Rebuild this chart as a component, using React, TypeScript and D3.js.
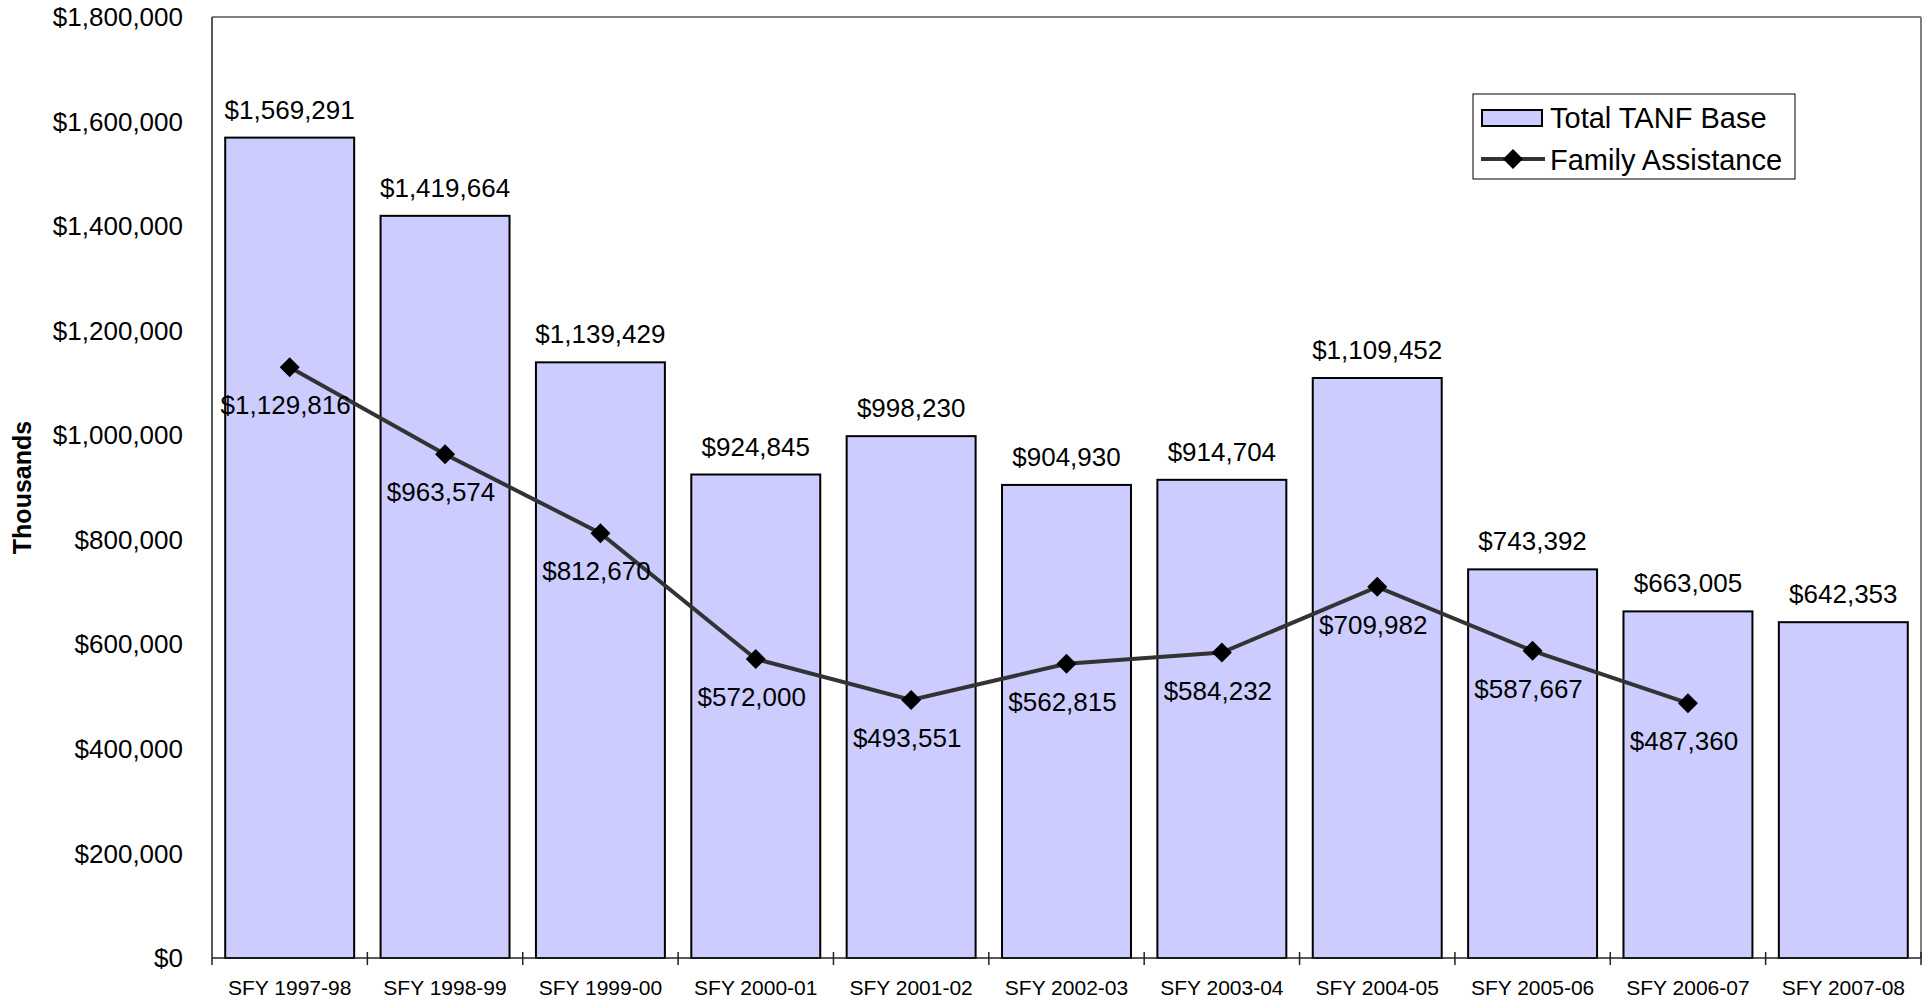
import React from "react";
import * as d3 from "d3";

const categories = ["SFY 1997-98","SFY 1998-99","SFY 1999-00","SFY 2000-01","SFY 2001-02","SFY 2002-03","SFY 2003-04","SFY 2004-05","SFY 2005-06","SFY 2006-07","SFY 2007-08"];
const totalTanfBase = [1569291,1419664,1139429,924845,998230,904930,914704,1109452,743392,663005,642353];
const familyAssistance = [1129816,963574,812670,572000,493551,562815,584232,709982,587667,487360];
const yTicks = [0,200000,400000,600000,800000,1000000,1200000,1400000,1600000,1800000];

const W = 1930, H = 1001;
const M = { left: 212, right: 1921, top: 17, bottom: 958 };
const FONT = "Arial, 'Liberation Sans', sans-serif";

export default function App() {
  const x = d3.scaleBand<string>().domain(categories).range([M.left, M.right]).paddingInner(0.17).paddingOuter(0.085);
  const xb = d3.scaleBand<string>().domain(categories).range([M.left, M.right]);
  const y = d3.scaleLinear().domain([0, 1800000]).range([M.bottom, M.top]);
  const fmt = (v: number) => "$" + d3.format(",")(v);
  const cx = (c: string) => (xb(c) as number) + xb.bandwidth() / 2;
  const line = d3.line<number>().x((_, i) => cx(categories[i])).y(d => y(d));
  const diamond = (px: number, py: number, r: number) => `M${px},${py - r}L${px + r},${py}L${px},${py + r}L${px - r},${py}Z`;

  return (
    <svg width={W} height={H} style={{ position: "absolute", left: 0, top: 0, background: "#fff" }} fontFamily={FONT}>
      {/* plot border */}
      <line x1={M.left} x2={M.right} y1={M.top} y2={M.top} stroke="#808080" strokeWidth={2} />
      <line x1={M.right} x2={M.right} y1={M.top} y2={M.bottom} stroke="#808080" strokeWidth={2} />
      {/* bars */}
      {categories.map((c, i) => (
        <rect key={c} x={x(c)} y={y(totalTanfBase[i])} width={x.bandwidth()} height={M.bottom - y(totalTanfBase[i])}
          fill="#CCCCFF" stroke="#000" strokeWidth={2} />
      ))}
      {/* axes */}
      <line x1={M.left} x2={M.left} y1={M.top} y2={M.bottom + 7} stroke="#222" strokeWidth={1.5} />
      <line x1={M.left} x2={M.right} y1={M.bottom} y2={M.bottom} stroke="#222" strokeWidth={1.5} />
      {categories.map((c, i) => i > 0 ? (
        <line key={"t" + c} x1={xb(c)} x2={xb(c)} y1={M.bottom - 6} y2={M.bottom + 7} stroke="#222" strokeWidth={1.5} />
      ) : null)}
      <line x1={M.right} x2={M.right} y1={M.bottom - 6} y2={M.bottom + 7} stroke="#222" strokeWidth={1.5} />
      {yTicks.map(t => (
        <text key={t} x={183} y={y(t)} dy="0.35em" textAnchor="end" fontSize={26} fill="#000">{fmt(t)}</text>
      ))}
      {categories.map(c => (
        <text key={"c" + c} x={cx(c)} y={M.bottom + 37} textAnchor="middle" fontSize={21} fill="#000">{c}</text>
      ))}
      <text transform={`translate(31,${(M.top + M.bottom) / 2}) rotate(-90)`} textAnchor="middle" fontSize={25} fontWeight="bold">Thousands</text>
      {/* bar labels */}
      {categories.map((c, i) => (
        <text key={"bl" + c} x={cx(c)} y={y(totalTanfBase[i]) - 19} textAnchor="middle" fontSize={26}>{fmt(totalTanfBase[i])}</text>
      ))}
      {/* line */}
      <path d={line(familyAssistance) as string} fill="none" stroke="#333333" strokeWidth={4} />
      {familyAssistance.map((v, i) => (
        <path key={"m" + i} d={diamond(cx(categories[i]), y(v), 10)} fill="#000" />
      ))}
      {familyAssistance.map((v, i) => (
        <text key={"ll" + i} x={cx(categories[i]) - 4} y={y(v) + 47} textAnchor="middle" fontSize={26}>{fmt(v)}</text>
      ))}
      {/* legend */}
      <rect x={1473} y={94} width={322} height={85} fill="#fff" stroke="#000" strokeWidth={1} />
      <rect x={1482} y={110} width={60} height={16} fill="#CCCCFF" stroke="#000" strokeWidth={2} />
      <text x={1550} y={128} fontSize={29}>Total TANF Base</text>
      <line x1={1481} x2={1545} y1={159} y2={159} stroke="#333333" strokeWidth={4} />
      <path d={diamond(1513, 159, 10)} fill="#000" />
      <text x={1550} y={170} fontSize={29}>Family Assistance</text>
    </svg>
  );
}
